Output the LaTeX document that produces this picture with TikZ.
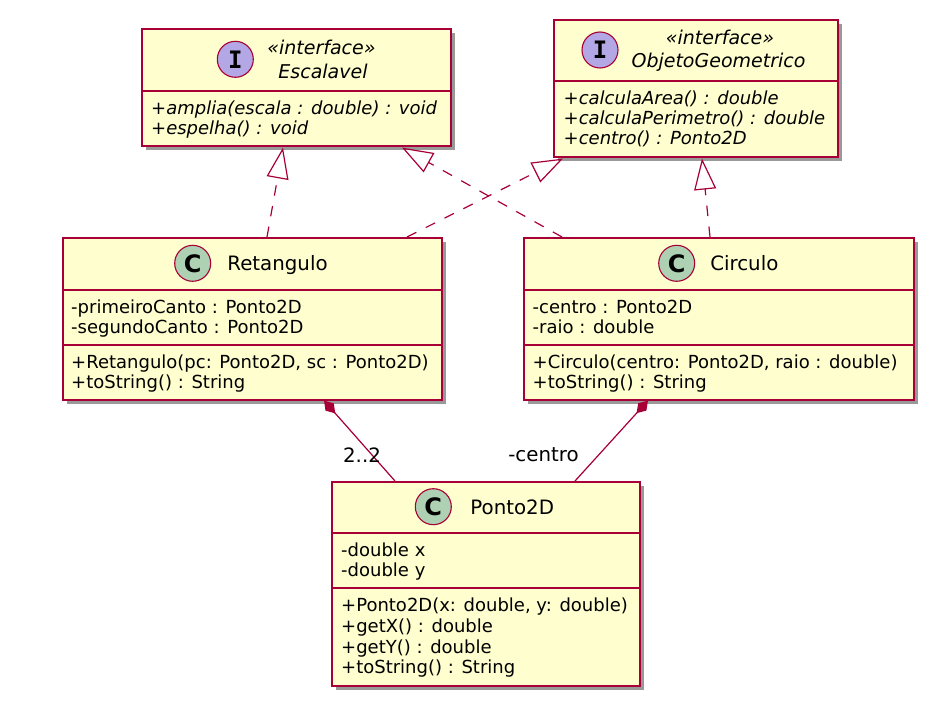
\documentclass[tikz,border=0pt]{standalone}
\usepackage{fontspec}
\setmainfont{DejaVu Sans}
\newfontfamily\monob{DejaVu Sans Mono}
\usetikzlibrary{arrows.meta,shadows}
\definecolor{umlborder}{HTML}{A80036}
\definecolor{umlfill}{HTML}{FEFECE}
\definecolor{cicon}{HTML}{ADD1B2}
\definecolor{iicon}{HTML}{B4A7E5}
\tikzset{
  classbox/.style={draw=umlborder, fill=umlfill, line width=1.6pt, inner sep=0pt, anchor=north west,
    drop shadow={shadow xshift=4pt, shadow yshift=-4pt, opacity=0.4, fill=black}},
  sepline/.style={draw=umlborder, line width=1.6pt},
  icon/.style={circle, draw=umlborder, line width=1.1pt, minimum size=36pt, inner sep=0pt,
    font=\fontsize{24}{24}\selectfont\bfseries},
  cname/.style={inner sep=0pt, anchor=base, font=\fontsize{19.8}{22}\selectfont},
  iname/.style={inner sep=0pt, anchor=base, font=\fontsize{19}{22}\selectfont\itshape},
  txt/.style={inner sep=0pt, anchor=base west, font=\fontsize{18}{20}\selectfont},
  itxt/.style={inner sep=0pt, anchor=base west, font=\fontsize{18}{20}\selectfont\itshape},
  lbl/.style={inner sep=0pt, anchor=base, font=\fontsize{19.8}{22}\selectfont},
  realize/.style={draw=umlborder, line width=1.2pt, dash pattern=on 10.5pt off 10.5pt,
    -{Triangle[open, length=31pt, width=22pt]}},
  compose/.style={draw=umlborder, fill=umlborder, line width=1.2pt,
    {Diamond[length=17pt, width=11pt]}-},
}
\begin{document}
\begin{tikzpicture}[x=1pt, y=-1pt]
\useasboundingbox (0,0) rectangle (934,711);
\fill[white] (0,0) rectangle (934,711);

% ---------- Escalavel ----------
\node[classbox, minimum width=309pt, minimum height=117pt] (esc) at (141,28) {};
\draw[sepline] ([yshift=-63pt]esc.north west) -- ([yshift=-63pt]esc.north east);
\node[icon, fill=iicon] (esc-i) at (235.3,59.3) {\monob I};
\node[iname] (esc-s) at (321.5,54.3) {«interface»};
\node[iname] (esc-n) at (323,78.3) {Escalavel};
\node[itxt] (esc-m1) at (151,114.3) {+amplia(escala : double) : void};
\node[itxt] (esc-m2) at (151,134.3) {+espelha() : void};

% ---------- ObjetoGeometrico ----------
\node[classbox, minimum width=284pt, minimum height=137pt] (obj) at (553,19) {};
\draw[sepline] ([yshift=-62pt]obj.north west) -- ([yshift=-62pt]obj.north east);
\node[icon, fill=iicon] (obj-i) at (600,50) {\monob I};
\node[iname] (obj-s) at (720,44.3) {«interface»};
\node[iname] (obj-n) at (718.5,67.3) {ObjetoGeometrico};
\node[itxt] (obj-m1) at (563.5,104.3) {+calculaArea() : double};
\node[itxt] (obj-m2) at (563.5,124.3) {+calculaPerimetro() : double};
\node[itxt] (obj-m3) at (563.5,144.3) {+centro() : Ponto2D};

% ---------- Retangulo ----------
\node[classbox, minimum width=379pt, minimum height=162pt] (ret) at (62,237) {};
\draw[sepline] ([yshift=-53pt]ret.north west) -- ([yshift=-53pt]ret.north east);
\draw[sepline] ([yshift=-108pt]ret.north west) -- ([yshift=-108pt]ret.north east);
\node[icon, fill=cicon] (ret-i) at (192.7,263.3) {C};
\node[cname] (ret-n) at (277.5,270.7) {Retangulo};
\node[txt] (ret-a1) at (71,313.4) {-primeiroCanto : Ponto2D};
\node[txt] (ret-a2) at (71,333.8) {-segundoCanto : Ponto2D};
\node[txt] (ret-m1) at (71,368.3) {+Retangulo(pc: Ponto2D, sc : Ponto2D)};
\node[txt] (ret-m2) at (71,388.5) {+toString() : String};

% ---------- Circulo ----------
\node[classbox, minimum width=390pt, minimum height=162pt] (cir) at (523,237) {};
\draw[sepline] ([yshift=-53pt]cir.north west) -- ([yshift=-53pt]cir.north east);
\draw[sepline] ([yshift=-108pt]cir.north west) -- ([yshift=-108pt]cir.north east);
\node[icon, fill=cicon] (cir-i) at (676.7,263.3) {C};
\node[cname] (cir-n) at (744.3,270.7) {Circulo};
\node[txt] (cir-a1) at (532.5,313.4) {-centro : Ponto2D};
\node[txt] (cir-a2) at (532.5,333.8) {-raio : double};
\node[txt] (cir-m1) at (532.5,368.3) {+Circulo(centro: Ponto2D, raio : double)};
\node[txt] (cir-m2) at (532.5,388.5) {+toString() : String};

% ---------- Ponto2D ----------
\node[classbox, minimum width=308pt, minimum height=204pt] (pto) at (331,481) {};
\draw[sepline] ([yshift=-52pt]pto.north west) -- ([yshift=-52pt]pto.north east);
\draw[sepline] ([yshift=-107pt]pto.north west) -- ([yshift=-107pt]pto.north east);
\node[icon, fill=cicon] (pto-i) at (433.3,506.7) {C};
\node[cname] (pto-n) at (512.2,514) {Ponto2D};
\node[txt] (pto-a1) at (341,556.3) {-double x};
\node[txt] (pto-a2) at (341,576.8) {-double y};
\node[txt] (pto-m1) at (341,611.6) {+Ponto2D(x: double, y: double)};
\node[txt] (pto-m2) at (341,632.3) {+getX() : double};
\node[txt] (pto-m3) at (341,653) {+getY() : double};
\node[txt] (pto-m4) at (341,673.7) {+toString() : String};

% ---------- connectors ----------
\draw[realize] ([xshift=205pt]ret.north west) -- ([xshift=142pt,yshift=-1pt]esc.south west);
\draw[realize] ([xshift=39pt]cir.north west) -- ([xshift=261pt,yshift=-1pt]esc.south west);
\draw[realize] ([xshift=345pt]ret.north west) -- ([xshift=10pt,yshift=-1pt]obj.south west);
\draw[realize] ([xshift=187pt]cir.north west) -- ([xshift=149pt,yshift=-1pt]obj.south west);
\draw[compose] ([xshift=262pt]ret.south west) -- ([xshift=64pt]pto.north west);
\draw[compose] ([xshift=125pt]cir.south west) -- ([xshift=244pt]pto.north west);

\node[lbl] (lab-22) at (362,462.3) {2..2};
\node[lbl] (lab-centro) at (543.5,461.7) {-centro};
\end{tikzpicture}
\end{document}
